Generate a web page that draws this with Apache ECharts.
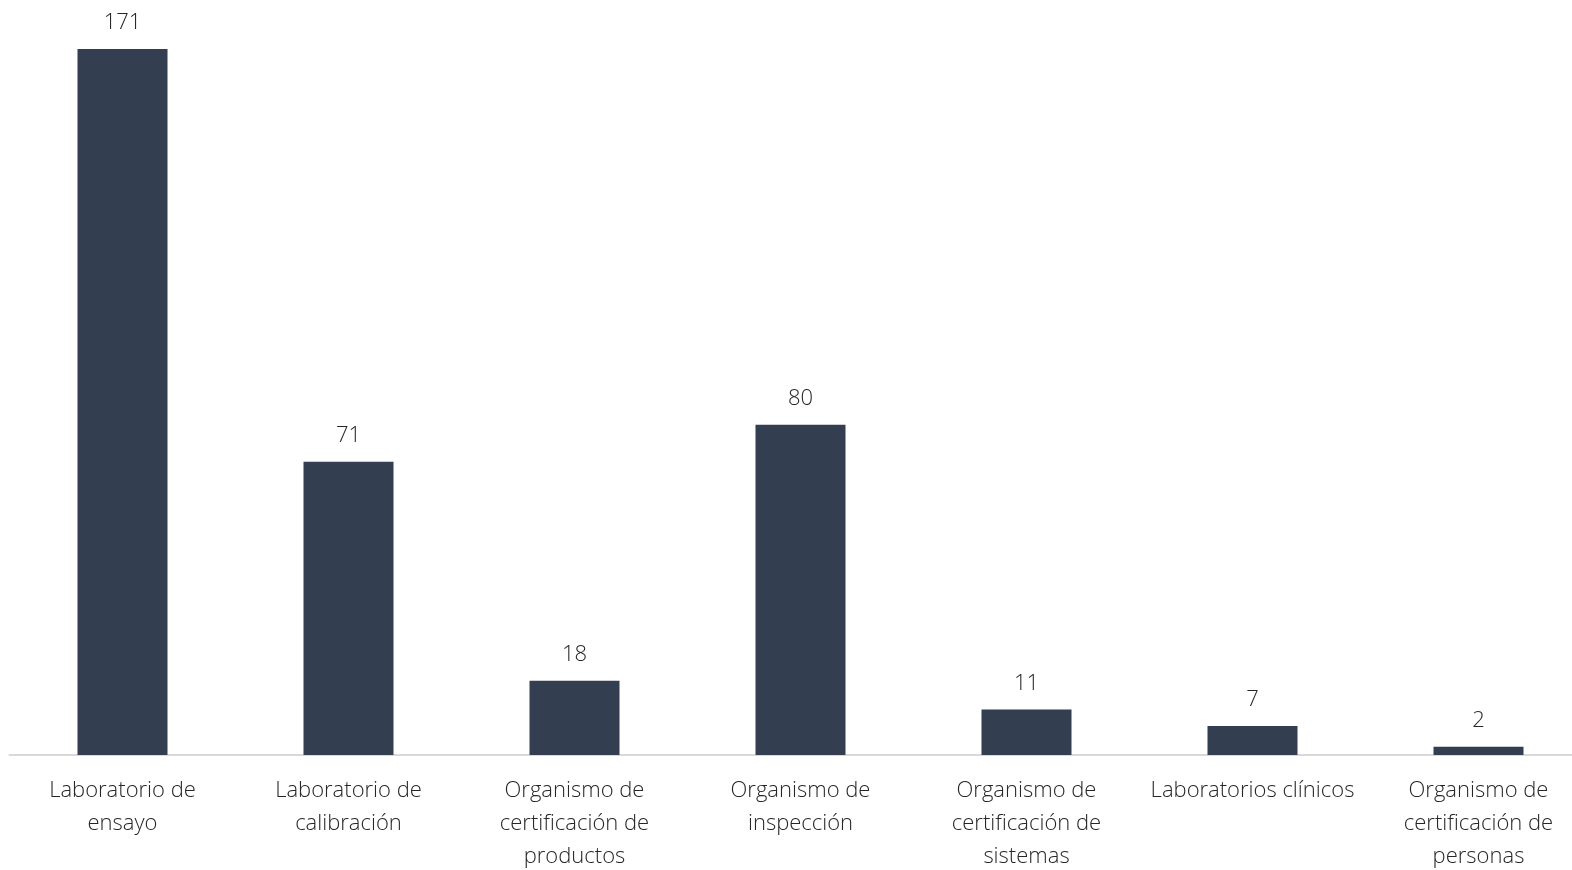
<!DOCTYPE html>
<html>
<head>
<meta charset="utf-8">
<script src="https://cdn.jsdelivr.net/npm/echarts@6/dist/echarts.min.js"></script>
<style>
  html, body { margin: 0; padding: 0; background: #fff; }
  #container { width: 1572px; height: 870px; }
</style>
</head>
<body>
<div id="container"></div>
<script>
  // categorias del eje x (saltos de linea como en la figura)
  const categorias = [
    'Laboratorio de\nensayo',
    'Laboratorio de\ncalibración',
    'Organismo de\ncertificación de\nproductos',
    'Organismo de\ninspección',
    'Organismo de\ncertificación de\nsistemas',
    'Laboratorios clínicos',
    'Organismo de\ncertificación de\npersonas'
  ];
  const valores = [171, 71, 18, 80, 11, 7, 2];

  const chart = echarts.init(document.getElementById('container'));
  chart.setOption({
    animation: false,
    grid: { left: 9.5, top: 49, width: 1582, bottom: 115, containLabel: false, outerBoundsMode: 'none' },
    xAxis: {
      type: 'category',
      data: categorias,
      axisLine: { lineStyle: { color: '#d9d9d9', width: 2 } },
      axisTick: { show: false },
      axisLabel: {
        interval: 0,
        margin: 19,
        color: '#262626',
        fontFamily: 'Open Sans',
        fontWeight: 300,
        fontSize: 22,
        lineHeight: 33
      }
    },
    yAxis: { type: 'value', min: 0, max: 171, show: false, splitLine: { show: false } },
    series: [{
      type: 'bar',
      data: valores,
      barWidth: 90,
      itemStyle: { color: '#333f50' },
      label: {
        show: true,
        position: 'top',
        distance: 15,
        color: '#262626',
        fontFamily: 'Open Sans',
        fontWeight: 300,
        fontSize: 22
      }
    }]
  });
</script>
</body>
</html>
